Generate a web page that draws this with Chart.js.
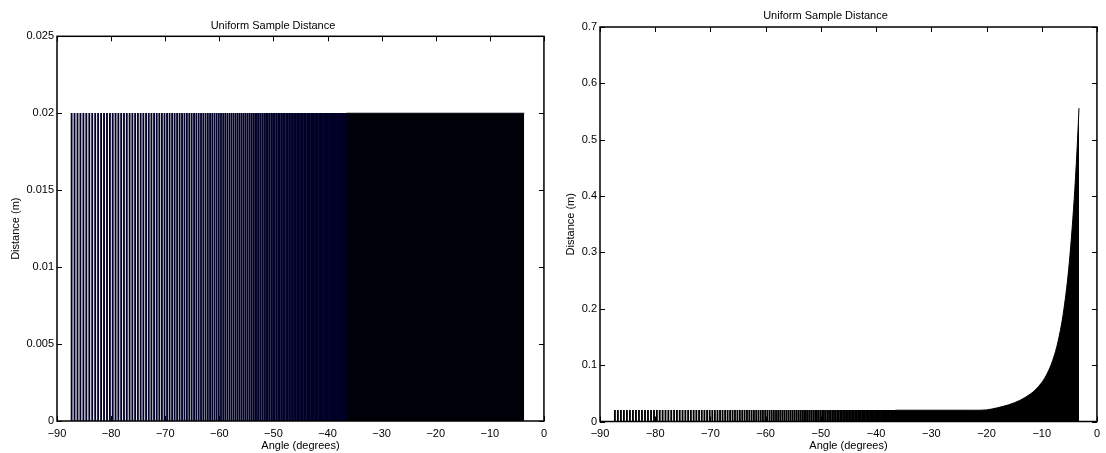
<!DOCTYPE html>
<html>
<head>
<meta charset="utf-8">
<script src="https://cdn.jsdelivr.net/npm/chart.js@4/dist/chart.umd.min.js"></script>
<style>
  html, body { margin: 0; padding: 0; background: #fff; }
  #wrap { position: relative; width: 1106px; height: 453px; }
  .pane { position: absolute; top: 0; width: 553px; height: 453px; }
</style>
</head>
<body>
<div id="wrap">
  <div class="pane" style="left:0"><canvas id="left" width="553" height="453"></canvas></div>
  <div class="pane" style="left:553px"><canvas id="right" width="553" height="453"></canvas></div>
</div>
<script>
// labels
const chartTitle = 'Uniform Sample Distance';
const xTitle = 'Angle (degrees)';
const yTitle = 'Distance (m)';

// tick labels
const xTicks = [-90, -80, -70, -60, -50, -40, -30, -20, -10, 0];
const leftYTicks = [0, 0.005, 0.01, 0.015, 0.02, 0.025];
const rightYTicks = [0, 0.1, 0.2, 0.3, 0.4, 0.5, 0.6, 0.7];

// sample angles that can still be told apart (degrees)
const sampleAngles = [
  -87.30, -86.76, -86.21, -85.67, -85.12, -84.58, -84.03, -83.49, -82.94, -82.40,
  -81.85, -81.31, -80.76, -80.22,
  -79.70, -79.18, -78.66, -78.14, -77.62, -77.10, -76.58, -76.07, -75.56, -75.05,
  -74.54, -74.04, -73.54, -73.04, -72.55, -72.06, -71.57, -71.09, -70.61, -70.13,
  -69.66, -69.19, -68.72, -68.26, -67.80, -67.34, -66.89, -66.44, -65.99, -65.55,
  -65.11, -64.67, -64.24, -63.81, -63.38, -62.96, -62.54, -62.12, -61.71, -61.30,
  -60.89, -60.49, -60.09,
  -59.69, -59.29, -58.90, -58.51, -58.12, -57.74, -57.36, -56.98, -56.61, -56.24,
  -55.87, -55.51, -55.15, -54.79, -54.43, -54.08, -53.73, -53.38, -53.04, -52.70,
  -52.36, -52.02, -51.69, -51.36, -51.03, -50.71, -50.39, -50.07,
  -49.75, -49.44, -49.13, -48.82, -48.52, -48.22, -47.92, -47.62, -47.33, -47.04,
  -46.75, -46.47, -46.19, -45.91, -45.63, -45.36, -45.09, -44.82, -44.55, -44.29,
  -44.03, -43.77, -43.51, -43.26, -43.01, -42.76, -42.51, -42.27, -42.03, -41.79,
  -41.55, -41.32, -41.09, -40.86, -40.63, -40.40, -40.18,
  -39.96, -39.74, -39.52, -39.31, -39.10, -38.89, -38.68, -38.47, -38.27, -38.07,
  -37.87, -37.67, -37.47, -37.28, -37.09, -36.90, -36.71, -36.52
];
const sampleDistance = 0.02;

// where the stems merge into a solid band: outline of that band
const leftBandAngles = [-36.5, -3.65];
const leftBandDistance = [0.02, 0.02];

const rightBandAngles = [
  -36.5, -22.0, -20.0, -18.0, -16.0, -14.0, -12.0, -11.0, -10.0, -9.0,
  -8.0, -7.0, -6.0, -5.0, -4.0, -3.5, -3.25
];
const rightBandDistance = [
  0.02, 0.02, 0.0206, 0.0244, 0.0296, 0.0373, 0.0491, 0.0576, 0.0691, 0.0853,
  0.1087, 0.1438, 0.198, 0.2824, 0.413, 0.503, 0.556
];

const FONT = { family: '"Liberation Sans", Arial, Helvetica, sans-serif', size: 11 };

// matlab style box with inward ticks
const boxPlugin = {
  id: 'box',
  beforeDatasetsDraw(chart) {
    const { ctx, chartArea: a, scales: { x, y } } = chart;
    ctx.save();
    ctx.strokeStyle = '#000';
    ctx.lineWidth = 1;
    ctx.beginPath();
    x.ticks.forEach(t => {
      const px = Math.round(x.getPixelForValue(t.value)) + 0.5;
      ctx.moveTo(px, a.bottom); ctx.lineTo(px, a.bottom - 5);
      ctx.moveTo(px, a.top); ctx.lineTo(px, a.top + 5);
    });
    y.ticks.forEach(t => {
      const py = Math.round(y.getPixelForValue(t.value)) + 0.5;
      ctx.moveTo(a.left, py); ctx.lineTo(a.left + 5, py);
      ctx.moveTo(a.right, py); ctx.lineTo(a.right - 5, py);
    });
    ctx.stroke();
    ctx.restore();
  },
  afterDatasetsDraw(chart) {
    const { ctx, chartArea: a } = chart;
    ctx.save();
    ctx.strokeStyle = '#000';
    ctx.lineWidth = 1.5;
    ctx.strokeRect(a.left, a.top, a.right - a.left, a.bottom - a.top);
    ctx.restore();
  }
};

function minusLabel(v) {
  return v < 0 ? '\u2212' + Math.abs(v) : String(v);
}

function makeChart(id, cfg) {
  return new Chart(document.getElementById(id), {
    type: 'bar',
    data: {
      datasets: [
        {
          type: 'line',
          data: cfg.bandAngles.map((a, i) => ({ x: a, y: cfg.bandValues[i] })),
          borderColor: cfg.bandColor,
          backgroundColor: cfg.bandColor,
          borderWidth: 1,
          pointRadius: 0,
          fill: 'origin',
          cubicInterpolationMode: 'monotone',
          order: 1
        },
        {
          type: 'bar',
          data: sampleAngles.map(a => ({ x: a, y: sampleDistance })),
          backgroundColor: cfg.stemColor,
          borderWidth: 0,
          barThickness: 1.2,
          order: 2
        }
      ]
    },
    options: {
      responsive: false,
      animation: false,
      layout: { padding: { left: 0, right: cfg.padRight, top: 0, bottom: 0 } },
      plugins: {
        legend: { display: false },
        tooltip: { enabled: false },
        title: {
          display: true,
          text: chartTitle,
          color: '#000',
          font: { ...FONT, weight: 'normal' },
          padding: { top: cfg.titleTop, bottom: cfg.titleBottom }
        }
      },
      scales: {
        x: {
          type: 'linear',
          min: -90,
          max: 0,
          offset: false,
          grid: { display: false, drawTicks: false },
          border: { display: false },
          ticks: { color: '#000', font: FONT, padding: 6, maxRotation: 0, callback: minusLabel },
          afterBuildTicks: s => { s.ticks = xTicks.map(v => ({ value: v })); },
          afterFit: s => { s.height = cfg.xHeight; },
          title: { display: true, text: xTitle, color: '#000', font: FONT, padding: { top: 0, bottom: 0 } }
        },
        y: {
          min: 0,
          max: cfg.yMax,
          grid: { display: false, drawTicks: false },
          border: { display: false },
          ticks: { color: '#000', font: FONT, padding: 3, callback: v => String(v) },
          afterBuildTicks: s => { s.ticks = cfg.yTicks.map(v => ({ value: v })); },
          afterFit: s => { s.width = cfg.yWidth; },
          title: { display: true, text: yTitle, color: '#000', font: FONT, padding: { top: cfg.yTitlePad, bottom: 0 } }
        }
      }
    },
    plugins: [boxPlugin]
  });
}

makeChart('left', {
  yTicks: leftYTicks, yMax: 0.025,
  bandAngles: leftBandAngles, bandValues: leftBandDistance,
  stemColor: '#000028', bandColor: '#000008',
  padRight: 7, titleTop: 19.4, titleBottom: 3.7, xHeight: 32, yWidth: 57, yTitlePad: 9.4
});

makeChart('right', {
  yTicks: rightYTicks, yMax: 0.7,
  bandAngles: rightBandAngles, bandValues: rightBandDistance,
  stemColor: '#000', bandColor: '#000',
  padRight: 8, titleTop: 8.9, titleBottom: 4.9, xHeight: 31.5, yWidth: 47, yTitlePad: 11.4
});
</script>
</body>
</html>
